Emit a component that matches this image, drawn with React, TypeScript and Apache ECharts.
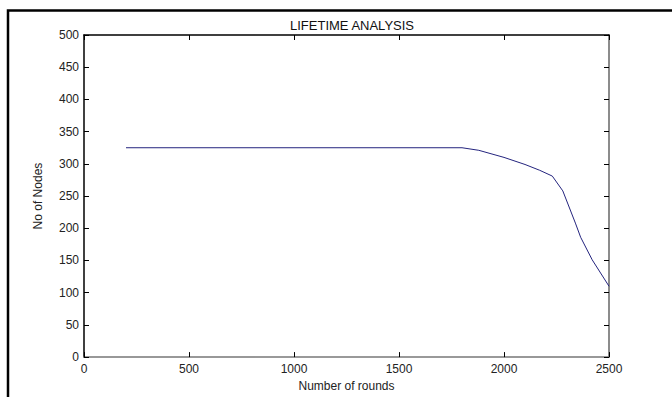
import React, { useEffect, useRef } from "react";
import * as echarts from "echarts";

const rounds = [200, 600, 1000, 1400, 1800, 1880, 2000, 2100, 2170, 2230, 2280, 2340, 2365, 2420, 2500];
const nodes = [325, 325, 325, 325, 325, 321, 310, 299, 290, 281, 258, 208, 186, 151, 110];
const xTicks = [0, 500, 1000, 1500, 2000, 2500];
const yTicks = [0, 50, 100, 150, 200, 250, 300, 350, 400, 450, 500];

const FONT = "'Liberation Sans', Arial, sans-serif";

export default function App() {
  const ref = useRef<HTMLDivElement>(null);
  useEffect(() => {
    document.body.style.margin = "0";
    const chart = echarts.init(ref.current!, null, { renderer: "svg" });
    const tickStyle = () => ({ show: true, inside: true, length: 5, lineStyle: { color: "#000", width: 1 } });
    const fmt = (v: number) => String(v);
    chart.setOption({
      animation: false,
      backgroundColor: "#fff",
      textStyle: { fontFamily: FONT },
      title: {
        text: "LIFETIME ANALYSIS",
        left: 347,
        textAlign: "center",
        top: 14,
        padding: 5,
        textStyle: { fontFamily: FONT, fontSize: 13, fontWeight: "normal", color: "#111" },
      },
      graphic: [
        {
          type: "rect",
          shape: { x: 8, y: 10.5, width: 700, height: 420 },
          style: { fill: "none", stroke: "#000", lineWidth: 2.5 },
          silent: true,
        },
      ],
      grid: { left: 84, right: 63, top: 35, bottom: 35, containLabel: false },
      xAxis: [
        {
          type: "value",
          min: xTicks[0],
          max: xTicks[xTicks.length - 1],
          interval: 500,
          position: "bottom",
          name: "Number of rounds",
          nameLocation: "middle",
          nameGap: 21,
          nameTextStyle: { fontFamily: FONT, fontSize: 12, color: "#222" },
          axisLine: { show: true, onZero: false, lineStyle: { color: "#777", width: 1.5 } },
          axisTick: tickStyle(),
          axisLabel: { fontFamily: FONT, fontSize: 12, color: "#222", margin: 6, formatter: fmt },
          splitLine: { show: false },
        },
        {
          type: "value",
          min: xTicks[0],
          max: xTicks[xTicks.length - 1],
          interval: 500,
          position: "top",
          axisLine: { show: true, onZero: false, lineStyle: { color: "#000", width: 1.5 } },
          axisTick: tickStyle(),
          axisLabel: { show: false },
          splitLine: { show: false },
        },
      ],
      yAxis: [
        {
          type: "value",
          min: yTicks[0],
          max: yTicks[yTicks.length - 1],
          interval: 50,
          position: "left",
          name: "No of Nodes",
          nameLocation: "middle",
          nameRotate: 90,
          nameGap: 40,
          nameTextStyle: { fontFamily: FONT, fontSize: 12, color: "#222" },
          axisLine: { show: true, onZero: false, lineStyle: { color: "#000", width: 1.5 } },
          axisTick: tickStyle(),
          axisLabel: { fontFamily: FONT, fontSize: 12, color: "#222", margin: 5, formatter: fmt },
          splitLine: { show: false },
        },
        {
          type: "value",
          min: yTicks[0],
          max: yTicks[yTicks.length - 1],
          interval: 50,
          position: "right",
          axisLine: { show: true, onZero: false, lineStyle: { color: "#666", width: 1.5 } },
          axisTick: tickStyle(),
          axisLabel: { show: false },
          splitLine: { show: false },
        },
      ],
      series: [
        {
          type: "line",
          xAxisIndex: 0,
          yAxisIndex: 0,
          data: rounds.map((r, i) => [r, nodes[i]]),
          showSymbol: false,
          symbol: "none",
          lineStyle: { color: "#24247e", width: 1 },
        },
      ],
    });
    return () => chart.dispose();
  }, []);
  return <div ref={ref} style={{ position: "fixed", left: 0, top: 0, width: 672, height: 397 }} />;
}
